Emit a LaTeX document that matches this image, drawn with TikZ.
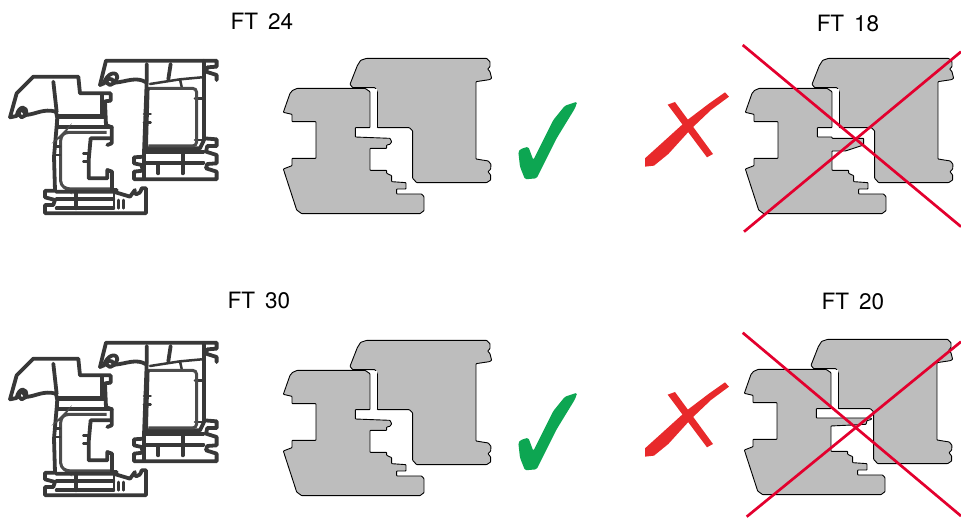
\documentclass[tikz,border=0pt]{standalone}
\usepackage{fontspec}
\setmainfont{TeX Gyre Heros}
\definecolor{BlockGray}{rgb}{0.74,0.74,0.74}
\definecolor{ProfGray}{rgb}{0.22,0.22,0.22}
\definecolor{SteelGray}{rgb}{0.3,0.3,0.3}
\definecolor{TickGreen}{rgb}{0.05,0.65,0.32}
\definecolor{CrossRed}{rgb}{0.91,0.16,0.17}
\definecolor{StrikeRed}{rgb}{0.89,0.0,0.18}
\tikzset{
  blockline/.style={draw=black,fill=BlockGray,line width=.9pt,rounded corners=.6pt,line join=round},
  profline/.style={draw=ProfGray,line width=3.8pt,line join=round,line cap=round},
  profthin/.style={draw=ProfGray,line width=2.5pt,line join=round,line cap=round},
  steelline/.style={draw=SteelGray,line width=3pt,rounded corners=4pt},
  strike/.style={draw=StrikeRed,line width=2.7pt},
  ftlabel/.style={font=\fontsize{22.5}{24}\selectfont,inner sep=0pt},
  % zoomed coordinates, three to one
  pics/sashblock/.style={code={
    \begin{scope}[x=.3333pt,y=-.3333pt]
    \draw[blockline] (240,118) -- (262,62) -- (272,46) -- (290,40) -- (650,40) -- (660,50) -- (660,65)
      -- (653,72) -- (660,80) -- (665,100) -- (658,104) -- (618,110) -- (618,342) -- (655,348) -- (663,358)
      -- (662,372) -- (654,380) -- (662,390) -- (662,405) -- (650,413) -- (440,413) -- (428,400) -- (428,258)
      -- (418,248) -- (322,248) -- (322,140) -- (315,128) -- (248,128) -- cycle;
    \end{scope}}},
  pics/frameblock/.style={code={
    \begin{scope}[x=.3333pt,y=-.3333pt]
    \fill[white] (290,131) rectangle (320,246);
    \draw[blockline] (40,202) -- (60,145) -- (68,136) -- (82,130) -- (285,130) -- (300,140) -- (300,248)
      -- (256,248) -- (256,276) -- #1 -- (300,376) -- (350,376) -- (350,385) -- (365,392) -- (365,410) -- (408,413)
      -- (408,432) -- (380,432) -- (380,447) -- (455,447) -- (462,455) -- (462,497) -- (450,506) -- (95,506)
      -- (80,495) -- (40,372) -- (66,362) -- (66,340) -- (138,340) -- (138,230) -- (66,230) -- (66,208) -- cycle;
    \end{scope}}},
  pics/profile/.style={code={
    \begin{scope}[x=.3333pt,y=-.3333pt]
    % sash part
    \draw[profline] (300,135) -- (318,62) -- (650,62) -- (650,80) -- (622,82) -- (618,95) -- (650,105) -- (650,120);
    \draw[profline] (612,62) -- (612,300) -- (600,325) -- (435,325);
    \draw[profline] (612,295) -- (650,298) -- (650,318) -- (622,318) -- (618,335) -- (650,345) -- (650,370) -- (622,372) -- (618,385)
      -- (650,395) -- (650,418) -- (402,418) -- (402,395) -- (428,392) -- (425,375) -- (402,370) -- (402,352) -- (432,350);
    \draw[profline] (300,135) -- (312,130) .. controls (320,100) and (350,90) .. (352,112) -- (345,128) -- (335,118)
      .. controls (320,110) and (312,130) .. (330,135) -- (345,128) .. controls (380,125) and (410,108) .. (440,128)
      -- (432,340) -- (432,415);
    \draw[profline] (440,72) -- (440,125) (512,72) -- (505,118);
    \draw[profthin] (450,132) -- (540,118) -- (605,112) (540,118) -- (545,140);
    \draw[profline] (436,335) -- (610,335) (436,368) -- (610,368) (548,335) -- (548,400) (475,370) -- (475,400);
    \draw[profthin] (432,222) -- (452,222) (432,248) -- (452,248) (585,175) -- (610,175) (585,300) -- (610,300);
    \draw[steelline] (445,145) -- (590,145) -- (590,318) -- (445,318);
    \draw[profthin] (445,145) -- (440,320);
    % frame part
    \draw[profline] (30,232) -- (50,160) -- (100,110) -- (235,110) -- (240,160) -- (332,160) -- (332,182) -- (315,184) -- (318,255) -- (335,262)
      -- (335,310) -- (322,315);
    \draw[profline] (305,165) -- (305,228);
    \draw[profline] (30,232) -- (50,228) .. controls (55,195) and (85,195) .. (78,225) -- (65,232) .. controls (50,225) and (55,205) .. (70,212)
      -- (78,225) .. controls (110,222) and (130,205) .. (168,215) -- (172,235) -- (162,350) -- (165,450);
    \draw[profline] (160,125) -- (170,215);
    \draw[draw=ProfGray,line width=4.8pt] (175,229) -- (318,229);
    \draw[profline] (172,262) -- (335,262) (172,262) -- (172,240);
    \draw[steelline] (320,277) -- (195,277) -- (182,290) -- (182,435) -- (200,447) -- (330,447);
    \draw[profline] (330,295) -- (272,295) -- (266,360) -- (266,415) -- (322,415) -- (322,390) -- (336,395) -- (336,450) -- (350,450);
    \draw[profthin] (250,340) -- (266,340) (250,365) -- (266,365) (165,320) -- (180,320) (165,345) -- (180,345);
    \draw[profline] (165,452) -- (135,452) -- (135,472) -- (165,480) -- (160,495) -- (135,495) -- (135,520) -- (438,520) -- (438,445)
      -- (425,445) .. controls (420,470) and (395,465) .. (405,450) -- (390,470) -- (340,455) -- (168,455);
    \draw[profline] (170,478) -- (340,478) (170,505) -- (340,505) (228,455) -- (228,505);
    \draw[profthin] (342,455) -- (342,505) (355,480) -- (355,505) (370,480) -- (370,505);
    \end{scope}}},
  pics/tick/.style={code={
    \begin{scope}[x=.3333pt,y=-.3333pt]
    \fill[TickGreen,rounded corners=1.5pt] (745,320) -- (752,312) -- (775,305) -- (790,345) -- (850,225) -- (885,182) -- (922,170)
      -- (915,190) -- (860,280) -- (800,400) -- (765,403) -- (750,365) -- cycle;
    \end{scope}}},
  pics/nope/.style={code={
    \begin{scope}[x=.3333pt,y=-.3333pt]
    \fill[CrossRed] (113,224) -- (135,216) -- (249,372) -- (231,382) -- cycle;
    \fill[CrossRed] (285,187) -- (297,200) -- (243,240) -- (185,295) -- (115,372) -- (72,407) -- (45,410) -- (45,385) -- (97,338)
      -- (172,270) -- (238,220) -- cycle;
    \end{scope}}}
}
\def\nosea{(360,280) -- (365,290) -- (360,298) -- (350,300) -- (350,310) -- (300,310)}
\def\noseb{(300,276) -- (300,280) -- (395,280) -- (395,300) -- (340,318) -- (300,318)}
\def\nosec{(420,276) -- (422,280) -- (408,284) -- (405,295) -- (300,300)}

\begin{document}
\begin{tikzpicture}[x=1pt,y=-1pt]
\useasboundingbox (0,0) rectangle (961,517);

\node[ftlabel] (ft24) at (262,21) {FT\, 24};
\node[ftlabel] (ft30) at (259,300) {FT\, 30};
\node[ftlabel] (ft18) at (848,23) {FT\, 18};
\node[ftlabel] (ft20) at (853,301) {FT\, 20};

% left column
\pic at (0,40) {profile};
\pic at (0,322) {profile};

% middle column
\pic at (270,45) {sashblock};
\pic at (270,45) {frameblock={\nosea}};
\pic at (270,45) {tick};
\pic at (270,327) {sashblock};
\pic at (270,327) {frameblock={\nosea}};
\pic at (270,336) {tick};

% right column
\pic at (732,45) {sashblock};
\pic at (732,45) {frameblock={\noseb}};
\pic at (630,30) {nope};
\draw[strike] (742.7,45) -- (961,226.7);
\draw[strike] (744,231.7) -- (961,51.7);

\pic at (731,326) {sashblock};
\pic at (731,326) {frameblock={\nosec}};
\pic at (630,320) {nope};
\draw[strike] (742.7,332.7) -- (961,516);
\draw[strike] (746.7,516.7) -- (961,341.7);
\end{tikzpicture}
\end{document}
